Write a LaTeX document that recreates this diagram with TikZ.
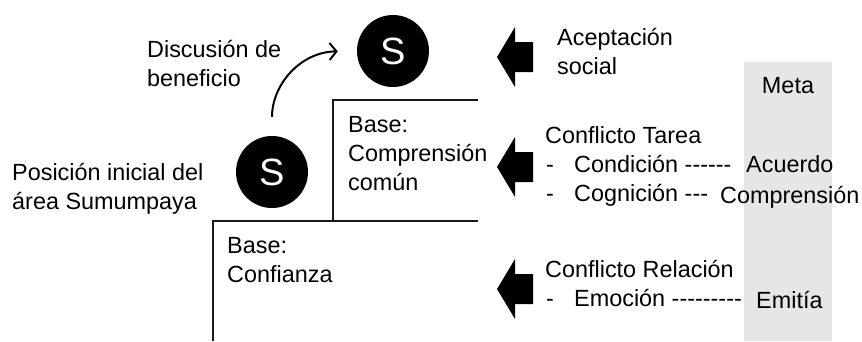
\documentclass[tikz,border=0pt]{standalone}
\usepackage{fontspec}
\setmainfont{Liberation Sans}
\usetikzlibrary{arrows.meta}
\definecolor{metagray}{HTML}{E6E6E6}
\newcommand{\hy}{-{}}
\begin{document}
\begin{tikzpicture}[x=1bp,y=-1bp,
  txt/.style={anchor=base west,inner sep=0pt,font=\fontsize{23.4bp}{29bp}\selectfont},
  snode/.style={circle,fill=black,minimum size=72bp,inner sep=0pt,text=white,font=\fontsize{38bp}{38bp}\selectfont},
  stepline/.style={line width=2.2bp,draw=black!90},
  blockarrow/.style={fill=black},
  curvearrow/.style={line width=2bp,-{Straight Barb[length=7bp,width=17bp]}}]
\useasboundingbox (0,0) rectangle (862,341);
% goal column
\fill[metagray] (744,62) rectangle (832,341);
% steps
\draw[stepline] (333,221) -- (333,100) -- (478,100);
\draw[stepline] (213,341) -- (213,221) -- (478,221);
% block arrows
\foreach \c in {57,167,289}{
  \fill[blockarrow] (497,\c) -- (515,{\c-30}) -- (515,{\c-15}) -- (533,{\c-15})
    -- (533,{\c+15}) -- (515,{\c+15}) -- (515,{\c+30}) -- cycle;
}
% S circles
\node[snode] (s1) at (272,172) {S};
\node[snode] (s2) at (393,51) {S};
\draw[curvearrow, shorten <=19bp, shorten >=19bp] (s1.north) .. controls (272,85) and (300,52) .. (s2.west);
% left texts
\node[txt] (d1) at (147,57) {Discusión de};
\node[txt] (d2) at (147,86) {beneficio};
\node[txt] (p1) at (12,180) {Posición inicial del};
\node[txt] (p2) at (12,209) {área Sumumpaya};
% step texts
\node[txt] (b1) at (348,132) {Base:};
\node[txt] (b2) at (348,161) {Comprensión};
\node[txt] (b3) at (348,190) {común};
\node[txt] (c1) at (227,253) {Base:};
\node[txt] (c2) at (227,282) {Confianza};
% right texts
\node[txt] (a1) at (557,45) {Aceptación};
\node[txt] (a2) at (557,74) {social};
\node[txt] (t1) at (545,143) {Conflicto Tarea};
\node[txt] (t2m) at (546,172) {\hy};
\node[txt] (t2) at (574,172) {Condición \hy\hy\hy\hy\hy\hy};
\node[txt] (t3m) at (546,201) {\hy};
\node[txt] (t3) at (574,201) {Cognición \hy\hy\hy};
\node[txt] (r1) at (545,277) {Conflicto Relación};
\node[txt] (r2m) at (546,306) {\hy};
\node[txt] (r2) at (574,306) {Emoción \hy\hy\hy\hy\hy\hy\hy\hy\hy};
% goals
\node[txt,anchor=base] (m) at (788,93) {Meta};
\node[txt] (g1) at (746,172) {Acuerdo};
\node[txt] (g2) at (720,203) {Comprensión};
\node[txt] (g3) at (756,308) {Emitía};
\end{tikzpicture}
\end{document}
